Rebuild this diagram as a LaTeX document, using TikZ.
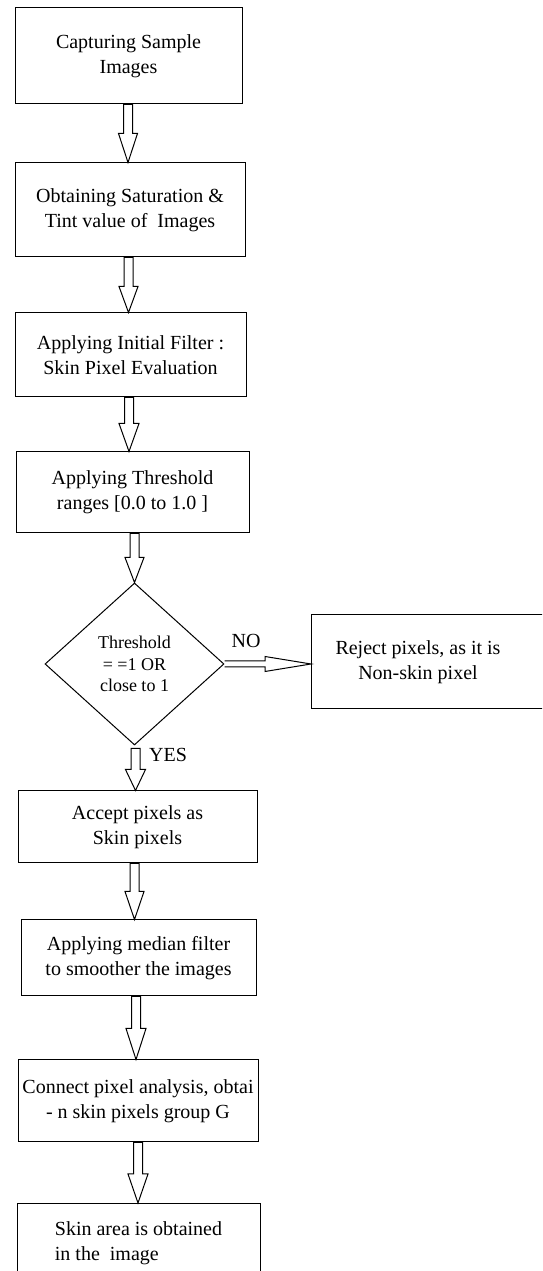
\documentclass[tikz,border=0pt]{standalone}
\usepackage{fontspec}
\setmainfont{Liberation Serif}
\usetikzlibrary{shapes.geometric,calc}
\tikzset{
  box/.style={draw, line width=1pt, rectangle, inner sep=0pt, align=center, font=\fontsize{20}{25}\selectfont},
  dbox/.style={draw, line width=1pt, diamond, inner sep=0pt, align=center, font=\fontsize{18}{21.5}\selectfont},
  fat/.style={draw, line width=1pt, line join=miter, fill=white},
  lbl/.style={font=\fontsize{20}{24}\selectfont, inner sep=0pt},
  txt/.style={inner sep=0pt, align=center, font=\fontsize{20}{25}\selectfont},
}
\newcommand{\vfat}[5]{%
  \draw[fat] let \p1=#1, \p2=#2 in
    ({\x1+(#3)-4.5},\y1) -- ({\x1+(#3)-4.5},{\y2+#4}) -- ({\x1+(#3)-#5},{\y2+#4}) -- ({\x1+(#3)},\y2)
    -- ({\x1+(#3)+#5},{\y2+#4}) -- ({\x1+(#3)+4.5},{\y2+#4}) -- ({\x1+(#3)+4.5},\y1) -- cycle;}
\begin{document}
\begin{tikzpicture}[x=1pt,y=1pt]
\useasboundingbox (0,0) rectangle (542,1271);
\clip (0,0) rectangle (542,1271);
\fill[white] (0,0) rectangle (542,1271);

\node[box, minimum width=227, minimum height=96] (b1) at (128.5,1215) {Capturing Sample\\Images};
\node[box, minimum width=230, minimum height=94] (b2) at (130,1061) {Obtaining Saturation \&\\Tint value of\ \ Images};
\node[box, minimum width=231, minimum height=84] (b3) at (130.5,916) {Applying Initial Filter :\\Skin Pixel Evaluation};
\node[box, minimum width=233, minimum height=81] (b4) at (132.5,778.5) {Applying Threshold\\ranges [0.0 to 1.0 ]};
\node[dbox, minimum width=179, minimum height=162] (dia) at (134.5,607) {Threshold\\= =1 OR\\close to 1};
\node[box, minimum width=250, minimum height=94, anchor=west] (rej) at (311,609) {};
\node[txt] (rejtext) at (418,609) {Reject pixels, as it is\\Non-skin pixel};
\node[box, minimum width=239, minimum height=72] (b5) at (137.5,444) {Accept pixels as\\Skin pixels};
\node[box, minimum width=235, minimum height=76] (b6) at (138.5,313) {Applying median filter\\to smoother the images};
\node[box, minimum width=240, minimum height=82] (b7) at (138,170) {Connect pixel analysis, obtai\\- n skin pixels group G};
\node[box, minimum width=243, minimum height=80, anchor=north, align=left] (b8) at (138.5,68) {Skin area is obtained\\in the\ \ image};

\vfat{(b1.south)}{(b2.north)}{-0.5}{29}{9.5}
\vfat{(b2.south)}{(b3.north)}{-1.5}{26}{9.5}
\vfat{(b3.south)}{(b4.north)}{-1.5}{28}{10}
\vfat{(b4.south)}{(dia.north)}{2}{25}{9.5}
\vfat{($(dia.south)+(0,-3)$)}{(b5.north)}{1}{21}{10}
\vfat{(b5.south)}{(b6.north)}{-3}{28}{9.5}
\vfat{(b6.south)}{(b7.north)}{-2.5}{31}{10}
\vfat{(b7.south)}{(b8.north)}{0}{29}{10}

\draw[fat] let \p1=(dia.east), \p2=(rej.west) in
  (\x1,\y1+3) -- (\x2-46,\y1+3) -- (\x2-46,\y1+7.5) -- (\x2,\y1)
  -- (\x2-46,\y1-7.5) -- (\x2-46,\y1-3) -- (\x1,\y1-3);

\node[lbl] (no) at (246,630) {NO};
\node[lbl] (yes) at (168,516) {YES};
\end{tikzpicture}
\end{document}
